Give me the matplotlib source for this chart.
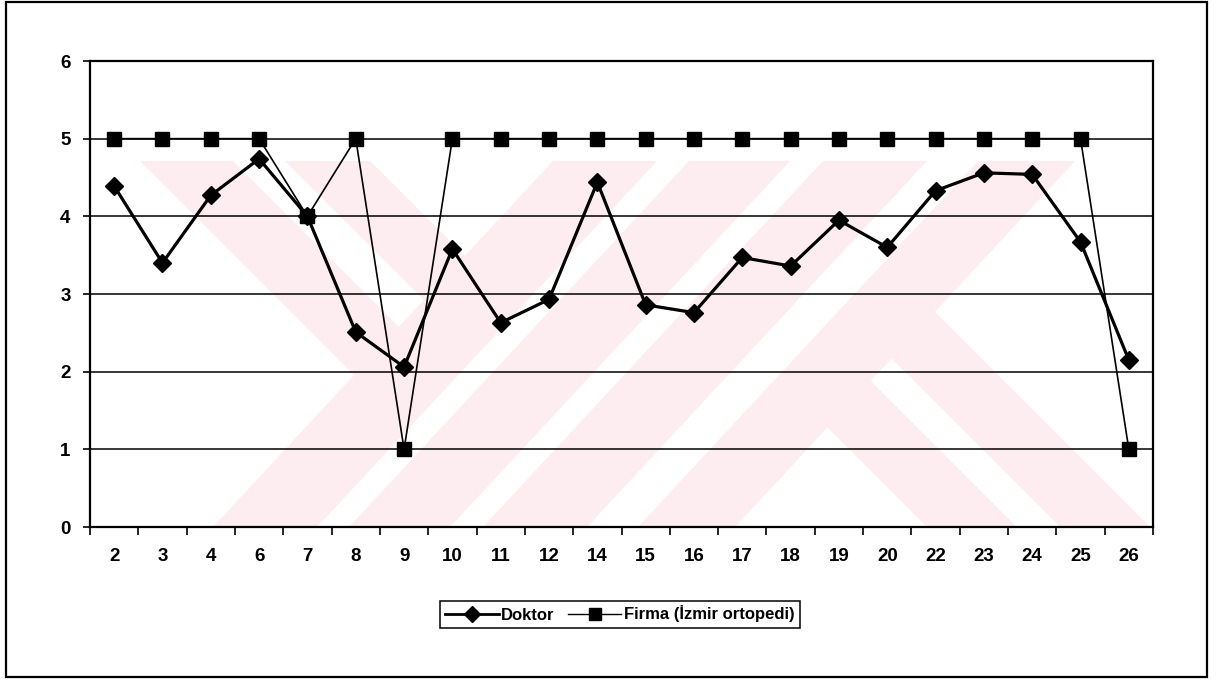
import matplotlib
matplotlib.use("Agg")
import matplotlib.pyplot as plt
from matplotlib.patches import Polygon, Rectangle
from matplotlib.lines import Line2D

# ---- data -------------------------------------------------------------
categories = ['2', '3', '4', '6', '7', '8', '9', '10', '11', '12', '14',
              '15', '16', '17', '18', '19', '20', '22', '23', '24', '25', '26']
doktor = [4.39, 3.40, 4.27, 4.74, 4.00, 2.51, 2.06, 3.58, 2.63, 2.93, 4.44,
          2.86, 2.76, 3.47, 3.36, 3.95, 3.60, 4.33, 4.56, 4.54, 3.67, 2.15]
firma = [5, 5, 5, 5, 4, 5, 1, 5, 5, 5, 5,
         5, 5, 5, 5, 5, 5, 5, 5, 5, 5, 1]
series_labels = ['Doktor', 'Firma (İzmir ortopedi)']
y_ticks = [0, 1, 2, 3, 4, 5, 6]

W, H = 1218, 680
plt.rcParams['font.family'] = ['Liberation Sans', 'DejaVu Sans']

fig = plt.figure(figsize=(W / 100, H / 100), dpi=100)
fig.patch.set_facecolor('white')

# plot area in pixel units (left, top, right, bottom)
L, T, R, B = 90, 61, 1153, 527
ax = fig.add_axes([L / W, 1 - B / H, (R - L) / W, (B - T) / H])


def fpt(X, Y):
    """pixel position (from top-left) -> figure fraction"""
    return (X / W, 1 - Y / H)


# ---- faint background emblem ------------------------------------------
pink = '#fdedf0'
wm_top, wm_bot = 161, 527
drop = 340  # horizontal shift of the rising bands over the emblem height
shapes = []
for a, b in [(553, 657), (689, 790), (823, 927), (978, 1075)]:
    shapes.append([(a, wm_top), (b, wm_top), (b - drop, wm_bot), (a - drop, wm_bot)])
# falling bands on the left
for a, b, t in [(140, 233, 217), (285, 370, 144)]:
    shapes.append([(a, wm_top), (b, wm_top), (b + t, wm_top + t), (a + t, wm_top + t)])
# falling bands on the right
shapes.append([(843, 310), (933, 310), (1150, 527), (1060, 527)])
shapes.append([(779, 379), (869, 379), (1017, 527), (927, 527)])

clip = Rectangle(fpt(140, wm_bot), (1150 - 140) / W, (wm_bot - wm_top) / H,
                 transform=fig.transFigure)
for s in shapes:
    p = Polygon([fpt(x, y) for x, y in s], closed=True, transform=fig.transFigure,
                facecolor=pink, edgecolor='none', zorder=0.5)
    ax.add_patch(p)
    p.set_clip_path(clip)

# ---- series -----------------------------------------------------------
x = list(range(len(categories)))
ax.plot(x, doktor, color='black', lw=2.3, marker='D', ms=9.5,
        markerfacecolor='black', markeredgecolor='black', zorder=3,
        label=series_labels[0])
ax.plot(x, firma, color='black', lw=1.2, marker='s', ms=10,
        markerfacecolor='black', markeredgecolor='black', zorder=4,
        label=series_labels[1])

# ---- axes -------------------------------------------------------------
ax.set_xlim(-0.5, len(categories) - 0.5)
ax.set_ylim(0, 6)
ax.set_facecolor('white')
ax.set_yticks(y_ticks)
ax.set_yticklabels([str(v) for v in y_ticks], fontsize=13.5, fontweight='bold')
ax.set_xticks(x)
ax.set_xticklabels(categories, fontsize=13.5, fontweight='bold')
ax.set_xticks([i - 0.5 for i in range(len(categories) + 1)], minor=True)
ax.tick_params(axis='x', which='major', length=0, pad=15)
ax.tick_params(axis='x', which='minor', length=6, width=1.2, direction='out', color='black')
ax.tick_params(axis='y', which='major', length=5, width=1.2, direction='out', pad=9)
ax.yaxis.grid(True, color='black', lw=1.1, zorder=1)
ax.set_axisbelow(True)
for sp in ax.spines.values():
    sp.set_color('black')
    sp.set_linewidth(1.6)

# ---- legend -----------------------------------------------------------
handles = [
    Line2D([], [], color='black', lw=2.0, marker='D', ms=8, markerfacecolor='black'),
    Line2D([], [], color='black', lw=1.0, marker='s', ms=8, markerfacecolor='black'),
]
leg = ax.legend(handles, series_labels, loc='center', ncol=2,
                bbox_to_anchor=fpt(620, 614), bbox_transform=fig.transFigure,
                frameon=True, fancybox=False, shadow=False, framealpha=1,
                edgecolor='black', borderpad=0.3, handlelength=3.2,
                handletextpad=0.15, columnspacing=0.8,
                prop={'family': ['Liberation Sans', 'DejaVu Sans'],
                      'weight': 'bold', 'size': 12})
leg.get_frame().set_linewidth(1.1)

# ---- outer chart border -----------------------------------------------
fig.add_artist(Rectangle(fpt(6, 677), 1201 / W, 675 / H, transform=fig.transFigure,
                         facecolor='none', edgecolor='black', lw=1.6))

fig.savefig('out.png', dpi=100, facecolor='white')
